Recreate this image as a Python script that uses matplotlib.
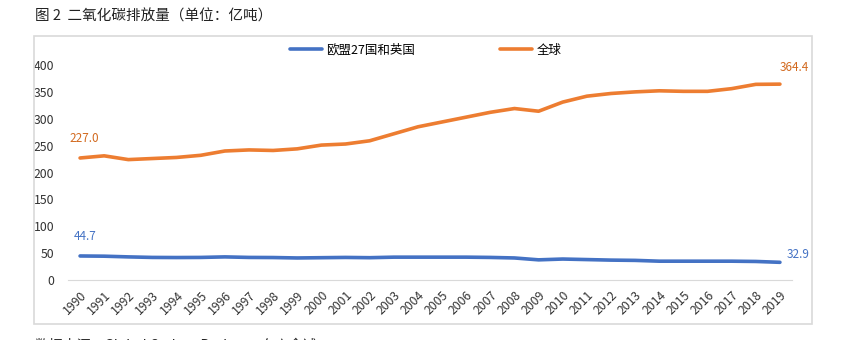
import numpy as np
import matplotlib.pyplot as plt
from matplotlib.patches import Rectangle

plt.rcParams['font.family'] = ['Noto Sans CJK SC', 'DejaVu Sans']

years = [str(y) for y in range(1990, 2020)]
eu_uk = [44.7, 44.3, 43.0, 42.0, 41.8, 42.0, 43.0, 42.0, 41.8, 41.0,
         41.5, 42.0, 41.5, 42.5, 42.5, 42.5, 42.5, 42.0, 41.0, 37.5,
         39.0, 38.0, 37.0, 36.5, 35.0, 35.0, 35.0, 35.0, 34.5, 32.9]
world = [227.0, 231.0, 224.0, 226.0, 228.0, 232.0, 240.0, 242.0, 241.0, 244.0,
         251.0, 253.0, 259.0, 272.0, 285.0, 294.0, 303.0, 312.0, 319.0, 314.0,
         331.0, 342.0, 347.0, 350.0, 352.0, 351.0, 351.0, 356.0, 364.0, 364.4]
series_names = ['欧盟27国和英国', '全球']

blue = '#4472C4'
orange = '#ED7D31'

fig = plt.figure(figsize=(8.46, 3.40), dpi=100)

# chart frame
fig.patches.append(Rectangle((34 / 846, 1 - 324 / 340), (812 - 34) / 846, (324 - 36) / 340,
                             transform=fig.transFigure, fill=False,
                             edgecolor='#d9d9d9', linewidth=1.2))

ax = fig.add_axes([68 / 846, 1 - 280 / 340, 724 / 846, 215 / 340])
x = np.arange(len(years))
ax.plot(x, eu_uk, color=blue, lw=2.6, label=series_names[0], solid_capstyle='round')
ax.plot(x, world, color=orange, lw=2.6, label=series_names[1], solid_capstyle='round')

ax.set_xlim(-0.5, len(years) - 0.5)
ax.set_ylim(0, 400)
ax.set_yticks(range(0, 401, 50))
ax.set_xticks(x)
ax.set_xticklabels(years, rotation=45, ha='right', rotation_mode='anchor')
ax.tick_params(axis='both', length=0, labelsize=8.8, colors='#333333')
ax.tick_params(axis='y', pad=10)
ax.tick_params(axis='x', pad=6)
for s in ['top', 'right', 'left']:
    ax.spines[s].set_visible(False)
ax.spines['bottom'].set_color('#d9d9d9')

# data labels at the ends
dark_orange = '#D2691E'
ax.annotate(f'{world[0]:.1f}', (x[0], world[0]), xytext=(3, 9), textcoords='offset points',
            ha='center', va='bottom', color=dark_orange, fontsize=8.5)
ax.annotate(f'{eu_uk[0]:.1f}', (x[0], eu_uk[0]), xytext=(4, 9), textcoords='offset points',
            ha='center', va='bottom', color=blue, fontsize=8.5)
ax.annotate(f'{world[-1]:.1f}', (x[-1], world[-1]), xytext=(10, 7), textcoords='offset points',
            ha='center', va='bottom', color=dark_orange, fontsize=8.5)
ax.annotate(f'{eu_uk[-1]:.1f}', (x[-1], eu_uk[-1]), xytext=(5, 1), textcoords='offset points',
            ha='left', va='bottom', color=blue, fontsize=8.5)

fig.legend(loc='center', bbox_to_anchor=(0.503, 1 - 50 / 340), ncol=2, frameon=False,
           fontsize=9, handlelength=2.6, columnspacing=6.8, handletextpad=0.3)

fig.text(35 / 846, 1 - 17 / 340, '图 2  二氧化碳排放量（单位：亿吨）', fontsize=10.5,
         va='center', ha='left', color='#222222')
fig.text(35 / 846, 1 - 345 / 340, '数据来源：Global Carbon Project，东方金诚', fontsize=10,
         va='center', ha='left', color='#222222')

fig.savefig('out.png', dpi=100)
